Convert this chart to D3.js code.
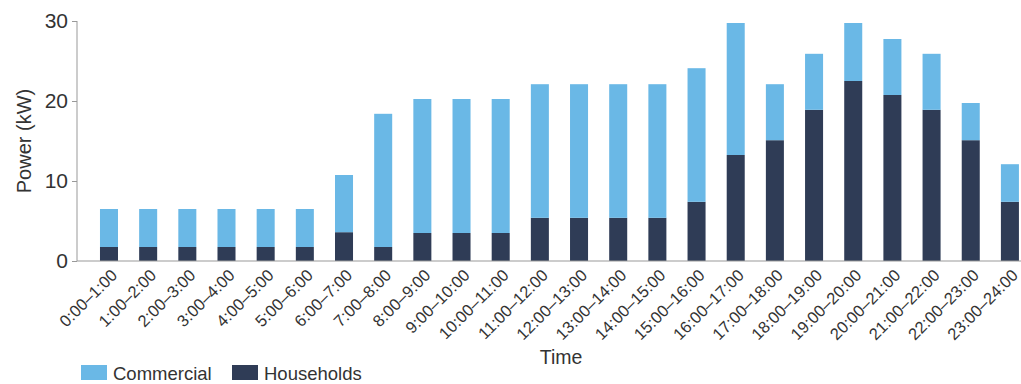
<!DOCTYPE html>
<html>
<head>
<meta charset="utf-8">
<script src="https://cdn.jsdelivr.net/npm/d3@7"></script>
<style>
  body { margin: 0; background: #fff; }
  text { font-family: "Liberation Sans", Arial, sans-serif; fill: #333; }
</style>
</head>
<body>
<script>
var hours = d3.range(24).map(function(h){ return h + ':00\u2013' + (h + 1) + ':00' })
var households = [1.75, 1.75, 1.75, 1.75, 1.75, 1.75, 3.6, 1.75, 3.5, 3.5, 3.5, 5.4,
                  5.4, 5.4, 5.4, 7.4, 13.25, 15.1, 18.9, 22.5, 20.75, 18.9, 15.1, 7.4]
var totals     = [6.5, 6.5, 6.5, 6.5, 6.5, 6.5, 10.75, 18.4, 20.25, 20.25, 20.25, 22.1,
                  22.1, 22.1, 22.1, 24.1, 29.75, 22.1, 25.9, 29.75, 27.75, 25.9, 19.75, 12.1]
var yTicks = [0, 10, 20, 30]
var seriesNames = ['Commercial', 'Households']
var colors = {Commercial: '#6ab8e6', Households: '#2f3c56'}

var rows = hours.map(function(h, i){
  return {time: h, Households: households[i], Commercial: totals[i] - households[i]}
})

var width = 1021, height = 384
var svg = d3.select('body').append('svg').attr('width', width).attr('height', height)

var x = d3.scaleBand().domain(hours).range([89.4, 1029.5]).paddingInner(0.54).paddingOuter(0.27)
var y = d3.scaleLinear().domain([0, 30]).range([261, 21])

var stack = d3.stack().keys(['Households', 'Commercial'])(rows)

svg.append('g').selectAll('g').data(stack).join('g')
  .attr('fill', function(d){ return colors[d.key] })
  .selectAll('rect').data(function(d){ return d }).join('rect')
  .attr('x', function(d){ return x(d.data.time) })
  .attr('width', x.bandwidth())
  .attr('y', function(d){ return y(d[1]) })
  .attr('height', function(d){ return y(d[0]) - y(d[1]) })

// y axis
var yAxis = svg.append('g').attr('transform', 'translate(77,0)')
  .call(d3.axisLeft(y).tickValues(yTicks).tickSize(5).tickPadding(4))
yAxis.select('.domain').attr('stroke', '#999').attr('d', 'M0,' + y(30) + 'V' + y(0))
yAxis.selectAll('.tick line').attr('stroke', '#999')
yAxis.selectAll('.tick text').attr('font-size', 21).attr('fill', '#333')
  .style('font-family', '"Liberation Sans", Arial, sans-serif')

// x baseline
svg.append('line').attr('x1', 77).attr('x2', 1021).attr('y1', y(0)).attr('y2', y(0))
  .attr('stroke', '#999').attr('stroke-width', 1.2)

// x labels
svg.append('g').selectAll('text').data(hours).join('text')
  .attr('transform', function(d){ return 'translate(' + (x(d) + x.bandwidth() / 2 + 1) + ',' + 268 + ') rotate(-45)' })
  .attr('text-anchor', 'end')
  .attr('dy', '0.7em')
  .attr('font-size', 16.5)
  .text(function(d){ return d })

svg.append('text')
  .attr('transform', 'translate(31,' + y(15) + ') rotate(-90)')
  .attr('text-anchor', 'middle')
  .attr('font-size', 20)
  .text('Power (kW)')

svg.append('text').attr('x', 561).attr('y', 364).attr('text-anchor', 'middle')
  .attr('font-size', 19.5).text('Time')

// legend
var leg = svg.append('g').selectAll('g').data(seriesNames).join('g')
  .attr('transform', function(d, i){ return 'translate(' + (81 + i * 151) + ',365)' })
leg.append('rect').attr('width', 26).attr('height', 15).attr('fill', function(d){ return colors[d] })
leg.append('text').attr('x', 32).attr('y', 14.5).attr('font-size', 18.5).text(function(d){ return d })
</script>
</body>
</html>
